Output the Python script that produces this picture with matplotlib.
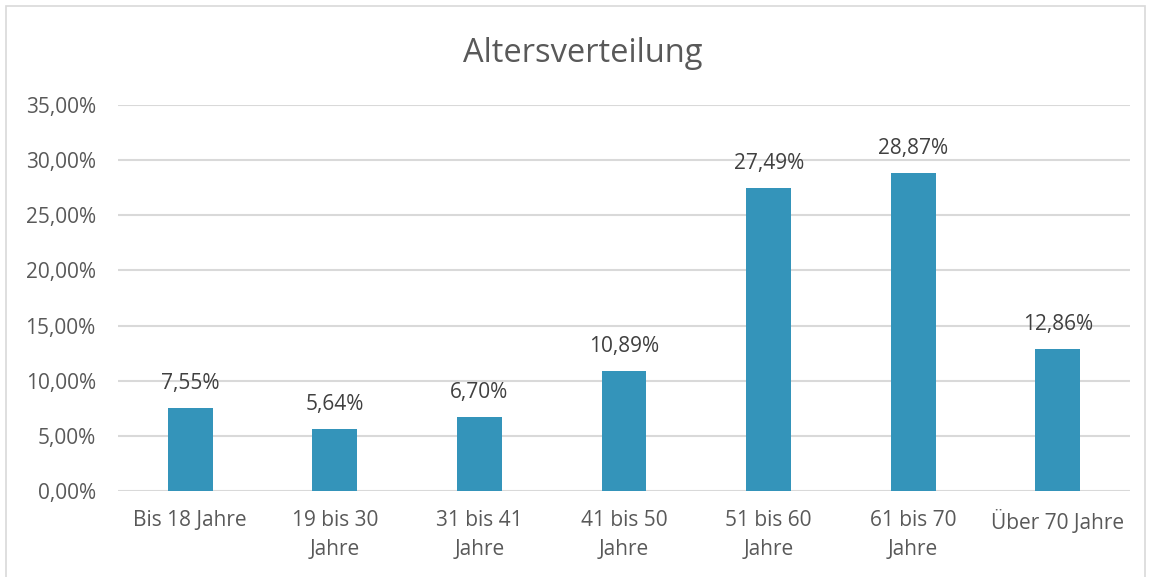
import matplotlib.pyplot as plt
from matplotlib.patches import Rectangle
from matplotlib.ticker import FuncFormatter

categories = ['Bis 18 Jahre', '19 bis 30\nJahre', '31 bis 41\nJahre', '41 bis 50\nJahre',
              '51 bis 60\nJahre', '61 bis 70\nJahre', 'Über 70 Jahre']
values = [7.55, 5.64, 6.70, 10.89, 27.49, 28.87, 12.86]
yticks = [0, 5, 10, 15, 20, 25, 30, 35]

plt.rcParams['font.family'] = ['Open Sans', 'DejaVu Sans']
txt = '#595959'

fig = plt.figure(figsize=(11.52, 5.77), dpi=100)
ax = fig.add_axes([0.1024, 0.149, 0.8786, 0.669])

x = list(range(len(categories)))
bars = ax.bar(x, values, width=0.31, color='#3494BA', zorder=3)

for b, v in zip(bars, values):
    ax.annotate(f'{v:.2f}%'.replace('.', ','), (b.get_x() + b.get_width() / 2, v),
                xytext=(0, 10), textcoords='offset points', ha='center', va='bottom',
                fontsize=15, color='#404040')

ax.set_xlim(-0.5, len(categories) - 0.5)
ax.set_ylim(0, 35)
ax.set_yticks(yticks)
ax.yaxis.set_major_formatter(FuncFormatter(lambda v, p: f'{v:.2f}%'.replace('.', ',')))
ax.set_xticks(x)
ax.set_xticklabels(categories, fontsize=15, color=txt, linespacing=1.5)
ax.tick_params(axis='y', labelsize=15, labelcolor=txt, length=0, pad=16)
ax.tick_params(axis='x', length=0, pad=14)
ax.grid(axis='y', color='#d9d9d9', linewidth=1.5, zorder=0)
for s in ax.spines.values():
    s.set_visible(False)

fig.text(0.506, 0.908, 'Altersverteilung', ha='center', va='center', fontsize=23.5, color=txt)

fig.patches.append(Rectangle((6 / 1152, -0.01), 1139 / 1152, 1 - 6 / 577 + 0.01,
                             transform=fig.transFigure, fill=False,
                             edgecolor='#d9d9d9', linewidth=1.2))

fig.savefig('out.png', dpi=100)
